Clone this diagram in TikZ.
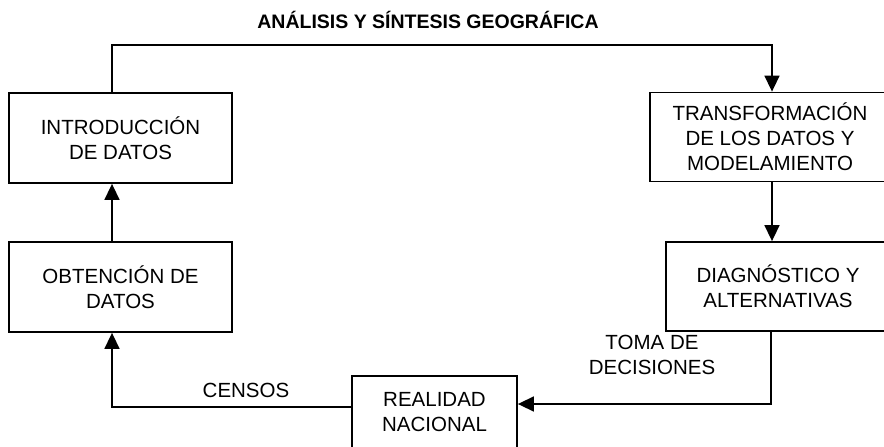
\documentclass[tikz,border=0pt]{standalone}
\usepackage{fontspec}
\setmainfont{Liberation Sans}
\usetikzlibrary{arrows.meta}
\begin{document}
\begin{tikzpicture}[x=1pt,y=-1pt,
  box/.style={draw,line width=1.8pt,align=center,inner sep=0pt,font=\fontsize{20.5}{25}\selectfont},
  conn/.style={line width=1.6pt,-{Triangle[length=16pt,width=15pt]}},
  lbl/.style={align=center,inner sep=0pt,font=\fontsize{20.5}{25}\selectfont}]
\useasboundingbox (0,0) rectangle (884,447);
\clip (0,0) rectangle (884,447);
\fill[white] (0,0) rectangle (884,447);

\node[anchor=base,inner sep=0pt,font=\fontsize{19.5}{22}\selectfont\bfseries] (title) at (428,28) {ANÁLISIS Y SÍNTESIS GEOGRÁFICA};

\node[box,minimum width=223pt,minimum height=90pt] (intro) at (120.5,138) {INTRODUCCIÓN\\DE DATOS};
\node[box,minimum width=223pt,minimum height=90pt] (obt) at (120.5,287) {OBTENCIÓN DE\\DATOS};
\node[box,minimum width=240pt,minimum height=89pt] (transf) at (770,137) {TRANSFORMACIÓN\\DE LOS DATOS Y\\MODELAMIENTO};
\node[box,minimum width=224pt,minimum height=89pt] (diag) at (778,286.5) {DIAGNÓSTICO Y\\ALTERNATIVAS};
\node[box,minimum width=165pt,minimum height=72pt] (real) at (434.5,412) {REALIDAD\\NACIONAL};

\coordinate (topy) at (0,45);

\draw[conn] ([xshift=-8.5pt]intro.north) |- ([xshift=2pt]transf.north |- topy) -- ([xshift=2pt]transf.north);
\draw[conn] ([xshift=2pt]transf.south) -- ([xshift=2pt]transf.south |- diag.north);
\draw[conn] ([xshift=1pt]transf.south |- diag.south) |- ([yshift=8pt]real.east);
\draw[conn] ([yshift=5pt]real.west) -| ([xshift=-8.5pt]obt.south);
\draw[conn] ([xshift=-8.5pt]obt.north) -- ([xshift=-8.5pt]intro.south);

\node[lbl,anchor=base] (censos) at (246,397) {CENSOS};
\node[lbl,anchor=base] (toma) at (652,374) {TOMA DE\\DECISIONES};
\end{tikzpicture}
\end{document}
